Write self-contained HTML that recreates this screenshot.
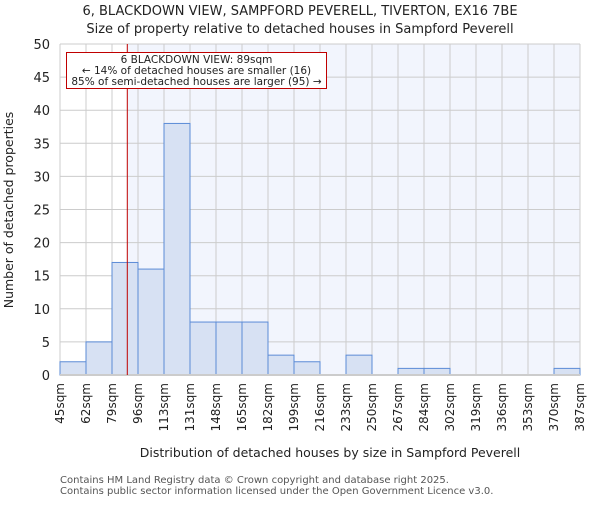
<!DOCTYPE html>
<html><head><meta charset="utf-8"><style>
body{margin:0;background:#fff}
svg{font-family:"DejaVu Sans","Liberation Sans",sans-serif}
</style></head><body>
<svg id="chart" width="600" height="500">
<text x="300" y="15" text-anchor="middle" font-size="13" fill="#222">6, BLACKDOWN VIEW, SAMPFORD PEVERELL, TIVERTON, EX16 7BE</text>
<text x="300" y="33" text-anchor="middle" font-size="13" fill="#222">Size of property relative to detached houses in Sampford Peverell</text>
<g id="plot"></g>
<text x="330" y="457" text-anchor="middle" font-size="12.5" fill="#222">Distribution of detached houses by size in Sampford Peverell</text>
<text transform="translate(13,210) rotate(-90)" text-anchor="middle" font-size="12.5" fill="#222">Number of detached properties</text>
<text x="60" y="483" font-size="10" fill="#555">Contains HM Land Registry data © Crown copyright and database right 2025.</text>
<text x="60" y="494" font-size="10" fill="#555">Contains public sector information licensed under the Open Government Licence v3.0.</text>
</svg>
<script>
const binEdges=[45,62,79,96,113,131,148,165,182,199,216,233,250,267,284,302,319,336,353,370,387];
const counts=[2,5,17,16,38,8,8,8,3,2,0,3,0,1,1,0,0,0,0,1];
const yTicks=[0,5,10,15,20,25,30,35,40,45,50];
const subjectSize=89;
const X0=60,X1=580,Y0=375,Y1=44,YMAX=50;
const NS="http://www.w3.org/2000/svg";
const g=document.getElementById('plot');
const nb=counts.length;
function xIdx(i){return X0+(X1-X0)*i/nb;}
function xVal(v){let i=0;while(i<nb-1&&v>binEdges[i+1])i++;return xIdx(i)+(v-binEdges[i])/(binEdges[i+1]-binEdges[i])*(X1-X0)/nb;}
function y(v){return Y0-(Y0-Y1)*v/YMAX;}
function mk(t,a){const e=document.createElementNS(NS,t);for(const k in a)e.setAttribute(k,a[k]);g.appendChild(e);return e;}
const sx=xVal(subjectSize);
let e=mk('rect',{x:sx,y:Y1,width:X1-sx,height:Y0-Y1,fill:'#f2f5fd'});


yTicks.forEach(t=>{
 let l=mk('line',{x1:X0,x2:X1,y1:y(t),y2:y(t),stroke:'#cccccc','stroke-width':1});
 
 
 let tx=mk('text',{x:X0-10,y:y(t)+5,'text-anchor':'end','font-size':13,fill:'#222'});
 tx.textContent=t;
 
 
});
binEdges.forEach((b,i)=>{
 let l=mk('line',{x1:xIdx(i),x2:xIdx(i),y1:Y1,y2:Y0,stroke:'#cccccc','stroke-width':1});
 
 
 let tx=mk('text',{transform:`translate(${xIdx(i)+4},${Y0+8}) rotate(-90)`,'text-anchor':'end','font-size':12,fill:'#222'});
 tx.textContent=b+'sqm';
 
 
});
counts.forEach((c,i)=>{
 if(c<=0)return;
 let r=mk('rect',{x:xIdx(i),y:y(c),width:xIdx(i+1)-xIdx(i),height:Y0-y(c),fill:'#d7e1f3',stroke:'#5b8bd6','stroke-width':1});
 
 
});
let ax=mk('line',{x1:X0,x2:X1,y1:Y0,y2:Y0,stroke:'#cccccc','stroke-width':2});


let ml=mk('line',{x1:sx,x2:sx,y1:Y1,y2:Y0,stroke:'#c00000','stroke-width':1});


let box=mk('rect',{x:66.5,y:52.5,width:260,height:36,fill:'#fff',stroke:'#c00000','stroke-width':1});


['6 BLACKDOWN VIEW: 89sqm','← 14% of detached houses are smaller (16)','85% of semi-detached houses are larger (95) →'].forEach((s,i)=>{
 let t=mk('text',{x:196.5,y:63+i*11,'text-anchor':'middle','font-size':10.5,fill:'#222'});
 t.textContent=s;
 
 
});
</script>
</body></html>
